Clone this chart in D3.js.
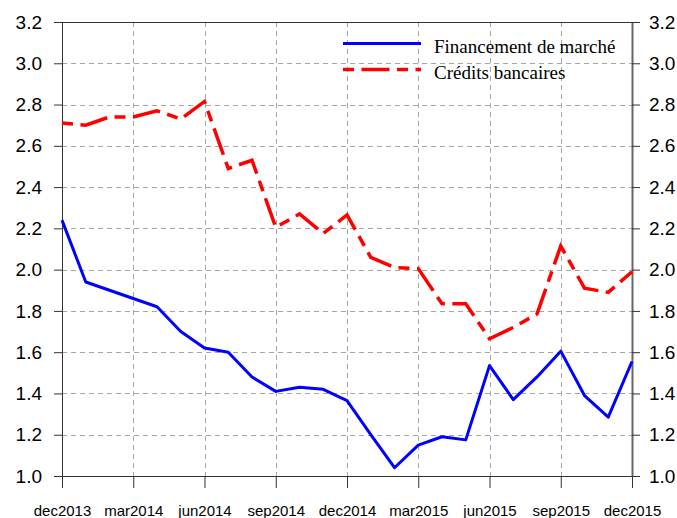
<!DOCTYPE html>
<html>
<head>
<meta charset="utf-8">
<script src="https://cdn.jsdelivr.net/npm/d3@7"></script>
<style>
	body { margin: 0; background: #fff; }
	svg { display: block; }
</style>
</head>
<body>
<svg id="chart" width="677" height="518"></svg>
<script>
// months from dec2013 to dec2015
var months = ["dec2013","jan2014","feb2014","mar2014","apr2014","may2014","jun2014",
	"jul2014","aug2014","sep2014","oct2014","nov2014","dec2014","jan2015","feb2015",
	"mar2015","apr2015","may2015","jun2015","jul2015","aug2015","sep2015","oct2015",
	"nov2015","dec2015"];

var marche = [2.24, 1.94, 1.90, 1.86, 1.82, 1.70, 1.62, 1.60, 1.48, 1.41, 1.43, 1.42, 1.365,
	1.20, 1.04, 1.15, 1.19, 1.175, 1.535, 1.37, 1.48, 1.605, 1.39, 1.285, 1.555];

var credits = [2.71, 2.70, 2.74, 2.74, 2.77, 2.73, 2.815, 2.49, 2.53, 2.205, 2.27, 2.175, 2.265,
	2.06, 2.01, 2.005, 1.835, 1.835, 1.665, 1.72, 1.785, 2.115, 1.91, 1.89, 1.99];

var xTicks = ["dec2013","mar2014","jun2014","sep2014","dec2014","mar2015","jun2015","sep2015","dec2015"];
var yTicks = [1.0, 1.2, 1.4, 1.6, 1.8, 2.0, 2.2, 2.4, 2.6, 2.8, 3.0, 3.2];

var seriesNames = ["Financement de marché", "Crédits bancaires"];

var margin = {top: 22, left: 62, right: 45, bottom: 42},
	width = 677 - margin.left - margin.right,
	height = 518 - margin.top - margin.bottom;

var svg = d3.select('#chart')
	.append('g')
	.attr('transform', 'translate(' + margin.left + ',' + margin.top + ')');

var x = d3.scalePoint()
	.domain(months)
	.range([0, width]);

var y = d3.scaleLinear()
	.domain([1.0, 3.2])
	.range([height, 0]);

// grid
var grid = svg.append('g').attr('class', 'grid');
grid.selectAll('.hgrid')
	.data(yTicks.slice(1, -1))
	.enter().append('line')
	.attr('x1', 0).attr('x2', width)
	.attr('y1', function(d){ return Math.round(y(d)) + 0.5; })
	.attr('y2', function(d){ return Math.round(y(d)) + 0.5; })
	.attr('stroke', '#a6a6a6')
	.attr('stroke-dasharray', '5,4');
grid.selectAll('.vgrid')
	.data(xTicks.slice(1, -1))
	.enter().append('line')
	.attr('y1', 0).attr('y2', height)
	.attr('x1', function(d){ return Math.round(x(d)) + 0.5; })
	.attr('x2', function(d){ return Math.round(x(d)) + 0.5; })
	.attr('stroke', '#a6a6a6')
	.attr('stroke-dasharray', '5,4');

// axes
var xAxis = d3.axisBottom(x)
	.tickValues(xTicks)
	.tickSize(12)
	.tickSizeOuter(0)
	.tickPadding(17);

var gx = svg.append('g')
	.attr('class', 'x axis')
	.attr('transform', 'translate(0,' + height + ')')
	.call(xAxis);

var yLeft = d3.axisLeft(y)
	.tickValues(yTicks)
	.tickFormat(d3.format('.1f'))
	.tickSize(8)
	.tickSizeOuter(0)
	.tickPadding(12);

var yRight = d3.axisRight(y)
	.tickValues(yTicks)
	.tickFormat(d3.format('.1f'))
	.tickSize(8)
	.tickSizeOuter(0)
	.tickPadding(9);

var gyl = svg.append('g').attr('class', 'y axis').call(yLeft);
var gyr = svg.append('g').attr('class', 'y axis')
	.attr('transform', 'translate(' + width + ',0)')
	.call(yRight);

svg.selectAll('.axis text')
	.attr('font-family', '"Liberation Sans", Arial, sans-serif')
	.attr('fill', '#000');
gx.selectAll('text').attr('font-size', 15);
gyl.selectAll('text').attr('font-size', 19);
gyr.selectAll('text').attr('font-size', 19);
svg.selectAll('.axis .tick line').attr('stroke', '#333');
svg.selectAll('.axis .domain').attr('stroke', '#333');
gyr.select('.domain').attr('stroke', '#666').attr('stroke-width', 2);

// top frame
svg.append('line')
	.attr('x1', 0).attr('x2', width)
	.attr('y1', 0.5).attr('y2', 0.5)
	.attr('stroke', '#333');

// series
var line = d3.line()
	.x(function(d, i){ return x(months[i]); })
	.y(function(d){ return y(d); });

svg.append('path')
	.datum(credits)
	.attr('fill', 'none')
	.attr('stroke', '#ff0000')
	.attr('stroke-width', 3.5)
	.attr('stroke-dasharray', '11,7.5,28,7.5')
	.attr('d', line);

svg.append('path')
	.datum(marche)
	.attr('fill', 'none')
	.attr('stroke', '#0000ff')
	.attr('stroke-width', 3)
	.attr('stroke-linejoin', 'round')
	.attr('d', line);

// legend
var legend = d3.select('#chart').append('g').attr('class', 'legend');
var legendItems = [
	{name: seriesNames[0], color: '#0000ff', dash: null, width: 3},
	{name: seriesNames[1], color: '#ff0000', dash: '11,7.5,28,7.5', width: 3.5}
];
var item = legend.selectAll('g')
	.data(legendItems)
	.enter().append('g')
	.attr('transform', function(d, i){ return 'translate(343,' + (43.5 + i * 26) + ')'; });

item.append('line')
	.attr('x1', 0).attr('x2', 78)
	.attr('stroke', function(d){ return d.color; })
	.attr('stroke-width', function(d){ return d.width; })
	.attr('stroke-dasharray', function(d){ return d.dash; });

item.append('text')
	.attr('x', 91)
	.attr('y', 9)
	.attr('font-family', '"Liberation Serif", "Times New Roman", serif')
	.attr('font-size', 19)
	.attr('fill', '#000')
	.text(function(d){ return d.name; });
</script>
</body>
</html>
